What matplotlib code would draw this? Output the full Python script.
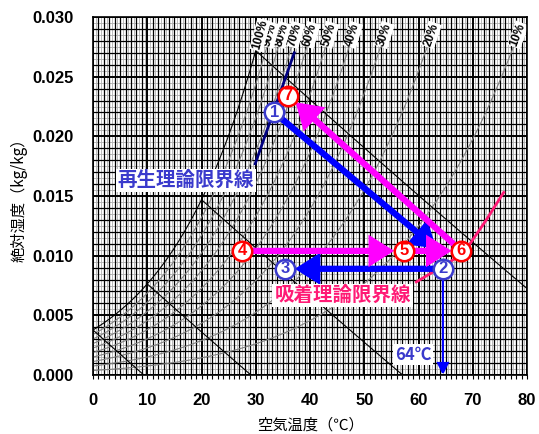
import numpy as np
import matplotlib
matplotlib.use('Agg')
import matplotlib.pyplot as plt
from matplotlib.patches import FancyArrowPatch

# ---------------- data ----------------
rh_levels = [10, 20, 30, 40, 50, 60, 70, 80, 90, 100]
rh_labels = ['10%', '20%', '30%', '40%', '50%', '60%', '70%', '80%', '90%', '100%']
wetbulb_levels = [0, 10, 20, 30]

point_ids = ['1', '2', '3', '4', '5', '6', '7']
point_T = [33.4, 64.5, 35.4, 27.5, 57.3, 67.9, 36.0]
point_x = [0.0220, 0.0089, 0.0089, 0.0104, 0.0104, 0.0104, 0.0234]
point_group = ['b', 'b', 'b', 'r', 'r', 'r', 'r']

regen_T = [29.9, 37.1]
regen_x = [0.0177, 0.0270]
adsorb_T = [59.6, 65.5, 68.3, 72.5, 75.7]
adsorb_x = [0.0078, 0.0094, 0.0102, 0.0130, 0.0153]

blue_main_end = (63.3, 0.0106)
x_ticks = [0, 10, 20, 30, 40, 50, 60, 70, 80]
y_ticks = [0.000, 0.005, 0.010, 0.015, 0.020, 0.025, 0.030]

P = 101.325
def psat(T):
    return 0.61078 * np.exp(17.27 * T / (T + 237.3))
def tsat(p):
    a = np.log(p / 0.61078)
    return 237.3 * a / (17.27 - a)
def hum(T, phi):
    ps = phi * psat(T)
    return 0.622 * ps / (P - ps)

BLUE = '#0000ff'
BLUE_T = '#3a3acc'
RED = '#ff0000'
MAG = '#ff00ff'
PINK = '#ff1a75'
NAVY = '#000080'

fig = plt.figure(figsize=(5.39, 4.34), dpi=100)
ax = fig.add_axes([93/539, (434-375)/434, 434/539, 358/434])
ax.set_xlim(0, 80)
ax.set_ylim(0, 0.030)

# grid
for t in np.arange(0.5, 80, 1.0):
    ax.axvline(t, color='#b0b0b0', lw=0.6, zorder=1)
for t in np.arange(0, 81, 1):
    ax.axvline(t, color='black', lw=1.4 if t % 10 == 0 else 0.9, zorder=1.2)
for v in np.arange(0.0005, 0.030, 0.001):
    ax.axhline(v, color='#b0b0b0', lw=0.6, zorder=1)
for i, v in enumerate(np.arange(0, 0.0301, 0.001)):
    ax.axhline(v, color='black', lw=1.4 if i % 5 == 0 else 0.9, zorder=1.2)

# RH curves
ytop_lab = 0.0285
for phi, lab in zip(rh_levels, rh_labels):
    f = phi / 100.0
    pv = ytop_lab * P / (0.622 + ytop_lab)
    Tend = tsat(pv / f)
    T = np.linspace(0, Tend, 200)
    X = hum(T, f)
    ax.plot(T, X, color='black' if phi == 100 else '#808080', lw=0.8, zorder=2)
    p1 = ax.transData.transform((T[-5], X[-5]))
    p2 = ax.transData.transform((T[-1], X[-1]))
    ang = np.degrees(np.arctan2(p2[1]-p1[1], p2[0]-p1[0]))
    ax.text(Tend, ytop_lab, lab, rotation=ang, rotation_mode='anchor',
            ha='center', va='center', fontsize=8.5, fontweight='bold',
            color='black', family='Liberation Sans', zorder=4,
            bbox=dict(boxstyle='square,pad=0.08', fc='white', ec='none'))

# wet bulb (constant enthalpy) lines
for tw in wetbulb_levels:
    xs = hum(tw, 1.0)
    h = 1.006 * tw + xs * (2501 + 1.86 * tw)
    T0 = min(h / 1.006, 81)
    T = np.linspace(tw, T0, 100)
    X = (h - 1.006 * T) / (2501 + 1.86 * T)
    ax.plot(T, X, color='black', lw=0.8, zorder=2.2)

# limit lines
ax.plot(regen_T, regen_x, color=NAVY, lw=2, zorder=5)
ax.plot(adsorb_T, adsorb_x, color=PINK, lw=2, zorder=5)

pts = {k: (t, x) for k, t, x in zip(point_ids, point_T, point_x)}

def arrow(p0, p1, color, lw, sA, sB, hl=0.6, hw=0.38, ms=20):
    a = FancyArrowPatch(p0, p1, arrowstyle=f'-|>,head_length={hl},head_width={hw}',
                        mutation_scale=ms, color=color, lw=lw,
                        shrinkA=sA, shrinkB=sB, zorder=6, joinstyle='miter',
                        capstyle='butt')
    ax.add_patch(a)

arrow(pts['1'], blue_main_end, BLUE, 4.5, 6, 0)
arrow(pts['2'], pts['3'], BLUE, 4.5, 6, 7)
arrow(pts['2'], (pts['2'][0], 0.0), BLUE, 1.5, 6, 0, hl=0.5, hw=0.25, ms=14)
arrow(pts['4'], pts['5'], MAG, 4.5, 7, 7)
arrow(pts['5'], pts['6'], MAG, 4.5, 7, 7)
arrow(pts['6'], pts['7'], MAG, 4.5, 7, 7)

# numbered circles
for k, g in zip(point_ids, point_group):
    c = BLUE_T if g == 'b' else RED
    ax.plot(*pts[k], 'o', ms=14, mfc='white', mec=c, mew=1.8, zorder=7)
    ax.text(pts[k][0], pts[k][1], k, color=c, ha='center', va='center',
            fontsize=12, fontweight='bold', family='Liberation Sans', zorder=8)

cjk = ['Noto Sans CJK JP', 'DejaVu Sans']
ax.text(17.1, 0.0163, '再生理論限界線', color=BLUE_T, fontsize=14, fontweight='bold',
        family=cjk, ha='center', va='center', zorder=9,
        bbox=dict(boxstyle='square,pad=0.1', fc='white', ec='none'))
ax.text(46.0, 0.0067, '吸着理論限界線', color=PINK, fontsize=14, fontweight='bold',
        family=cjk, ha='center', va='center', zorder=9,
        bbox=dict(boxstyle='square,pad=0.1', fc='white', ec='none'))
ax.text(59.0, 0.0017, '64℃', color=BLUE_T, fontsize=12, fontweight='bold',
        family=cjk, ha='center', va='center', zorder=9,
        bbox=dict(boxstyle='square,pad=0.1', fc='white', ec='none'))

# ticks
ax.set_xticks(x_ticks)
ax.set_xticklabels([str(v) for v in x_ticks])
ax.set_yticks(y_ticks)
ax.set_yticklabels([f'{v:.3f}' for v in y_ticks])
ax.set_xticks(np.arange(0, 81, 1), minor=True)
ax.tick_params(axis='x', which='both', length=3, width=0.8, pad=10)
ax.tick_params(axis='y', which='both', length=0, pad=14)
for lab in ax.get_xticklabels() + ax.get_yticklabels():
    lab.set_family(['Liberation Sans Narrow', 'Liberation Sans'])
    lab.set_fontweight('bold')
    lab.set_fontsize(12)
for s in ax.spines.values():
    s.set_linewidth(1.2)
    s.set_zorder(10)

ax.set_xlabel('空気温度（℃）', family=cjk, fontsize=11, labelpad=6)
ax.set_ylabel('絶対湿度（kg/kg）', family=cjk, fontsize=11, labelpad=3)

fig.savefig('out.png', dpi=100)
